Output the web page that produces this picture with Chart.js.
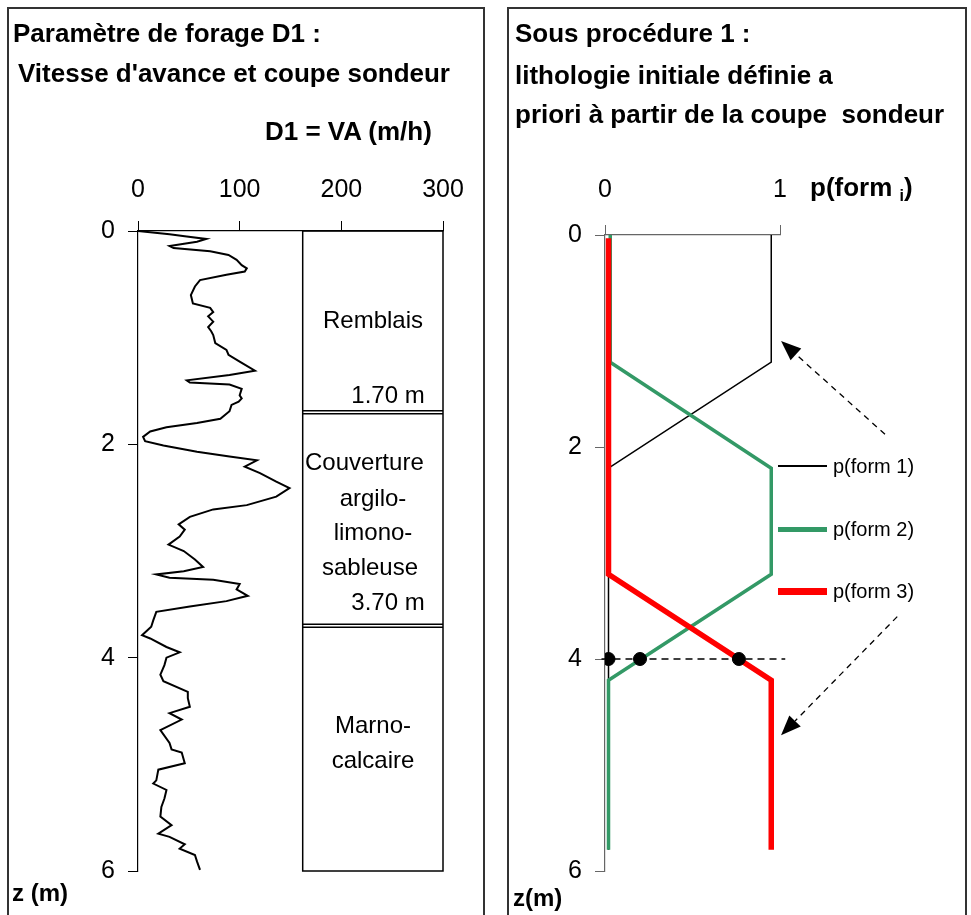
<!DOCTYPE html>
<html>
<head>
<meta charset="utf-8">
<script src="https://cdn.jsdelivr.net/npm/chart.js@4.4.1/dist/chart.umd.min.js"></script>
<style>
  body { margin: 0; background: #fff; width: 971px; height: 915px; overflow: hidden; position: relative;
         font-family: "Liberation Sans", Arial, sans-serif; color: #000; }
  .panel { position: absolute; top: 7px; height: 940px; border: 2px solid #333; box-sizing: border-box; }
  .t { position: absolute; white-space: pre; font-size: 26px; line-height: 26px; font-weight: bold; }
  .b { position: absolute; white-space: pre; font-size: 24px; line-height: 24px; text-align: center; }
  .lg { position: absolute; white-space: pre; font-size: 20px; line-height: 20px; }
  .sw { position: absolute; left: 778px; width: 49px; }
  canvas { position: absolute; top: 0; }
</style>
</head>
<body>
<div class="panel" style="left:7px;width:478px"></div>
<div class="panel" style="left:507px;width:460px"></div>

<canvas id="left" width="490" height="915" style="left:0"></canvas>
<canvas id="right" width="476" height="915" style="left:495px"></canvas>

<div class="t" style="left:13px;top:20px">Paramètre de forage D1 :</div>
<div class="t" style="left:18px;top:60px">Vitesse d'avance et coupe sondeur</div>
<div class="t" style="left:265px;top:118px">D1 = VA (m/h)</div>
<div class="t" style="left:12px;top:880px;font-size:24px">z (m)</div>

<div class="b" style="left:303px;width:140px;top:308px">Remblais</div>
<div class="b" style="left:318px;width:140px;top:383px">1.70 m</div>
<div class="b" style="left:305px;width:140px;top:450px;text-align:left">Couverture</div>
<div class="b" style="left:303px;width:140px;top:486px">argilo-</div>
<div class="b" style="left:303px;width:140px;top:520px">limono-</div>
<div class="b" style="left:300px;width:140px;top:555px">sableuse</div>
<div class="b" style="left:318px;width:140px;top:590px">3.70 m</div>
<div class="b" style="left:303px;width:140px;top:713px">Marno-</div>
<div class="b" style="left:303px;width:140px;top:748px">calcaire</div>

<div class="t" style="left:515px;top:20px">Sous procédure 1 :</div>
<div class="t" style="left:515px;top:62px">lithologie initiale définie a</div>
<div class="t" style="left:515px;top:101px">priori à partir de la coupe  sondeur</div>
<div class="t" style="left:810px;top:174px">p(form <span style="font-size:16px;position:relative;top:5px">i</span>)</div>
<div class="t" style="left:513px;top:885px;font-size:24px">z(m)</div>

<div class="sw" style="top:465px;height:2px;background:#000"></div>
<div class="sw" style="top:527px;height:5px;background:#339966"></div>
<div class="sw" style="top:588px;height:7px;background:#ff0000"></div>
<div class="lg" style="left:833px;top:456px">p(form 1)</div>
<div class="lg" style="left:833px;top:519px">p(form 2)</div>
<div class="lg" style="left:833px;top:581px">p(form 3)</div>

<script>
// Vitesse d'avance D1 (m/h) en fonction de la profondeur z (m)
var VA_DEPTH = [0, 0.03, 0.05, 0.075, 0.1, 0.14, 0.16, 0.19, 0.225, 0.27, 0.32, 0.35, 0.38, 0.41, 0.46, 0.52,
  0.6, 0.68, 0.72, 0.76, 0.8, 0.85, 0.9, 0.94, 0.975, 1.05, 1.115, 1.16, 1.225, 1.31, 1.35, 1.40, 1.42, 1.44,
  1.48, 1.54, 1.57, 1.6, 1.63, 1.69, 1.76, 1.8, 1.84, 1.88, 1.93, 1.97, 2.01, 2.07, 2.115, 2.15, 2.21, 2.27,
  2.35, 2.41, 2.49, 2.57, 2.61, 2.68, 2.75, 2.80, 2.865, 2.94, 3.0, 3.08, 3.15, 3.19, 3.22, 3.25, 3.27, 3.31,
  3.36, 3.42, 3.47, 3.52, 3.57, 3.65, 3.71, 3.79, 3.82, 3.90, 3.95, 4.0, 4.07, 4.16, 4.22, 4.32, 4.38, 4.46,
  4.52, 4.58, 4.68, 4.80, 4.86, 4.89, 4.99, 5.05, 5.15, 5.18, 5.24, 5.32, 5.40, 5.49, 5.57, 5.65, 5.68, 5.75,
  5.79, 5.85, 5.91, 5.99];
var VA_VALUE = [0, 31, 46, 67, 58, 31, 35, 71, 89, 97, 102, 107, 105, 87, 61, 56,
  52, 54, 71, 74, 69, 74, 69, 72, 74, 76, 87, 89, 100, 115, 90, 48, 51, 90,
  102, 100, 102, 99, 92, 90, 81, 58, 28, 12, 5, 7, 25, 58, 90, 117, 105, 120,
  136, 149, 136, 107, 74, 51, 40, 46, 41, 30, 45, 56, 64, 45, 18, 31, 74, 100,
  97, 108, 87, 51, 18, 15, 13, 4, 12, 28, 41, 28, 26, 22, 25, 49, 49, 51,
  31, 43, 22, 31, 33, 43, 46, 20, 18, 15, 28, 26, 23, 22, 33, 20, 31, 46,
  41, 56, 58, 61];

// coupe sondeur : colonne entre VA = 162 et 300, limites des couches (m)
var LITHO_X = [162, 300];
var LAYER_BOUNDS = [0, 1.70, 3.70, 6];

// probabilités des formations (sous procédure 1)
var P1_X = [0.95, 0.95, 0.02, 0.02];
var P1_Z = [0, 1.2, 2.2, 5.8];
var P2_X = [0.03, 0.03, 0.95, 0.95, 0.02, 0.02];
var P2_Z = [0, 1.2, 2.2, 3.2, 4.2, 5.8];
var P3_X = [0.02, 0.02, 0.95, 0.95];
var P3_Z = [0.03, 3.2, 4.2, 5.8];

// coupe à z = 4 m
var CUT_Z = 4;
var CUT_X = [-0.02, 1.03];
var DOTS_X = [0.02, 0.2, 0.765];

// flèches pointillées (départ -> pointe)
var ARROW_X0 = [1.6, 1.67];
var ARROW_Z0 = [1.88, 3.6];
var ARROW_X1 = [1.006, 1.006];
var ARROW_Z1 = [1.0, 4.72];

var FONT = "'Liberation Sans', Arial, sans-serif";

function pts(xs, zs) {
  return xs.map(function (x, i) { return { x: x, y: zs[i] }; });
}

function fixWidth(w) { return function (s) { s.width = w; }; }
function fixHeight(h) { return function (s) { s.height = h; }; }

var lithoBox = {
  id: "lithoBox",
  afterDatasetsDraw: function (chart) {
    var sx = chart.scales.x, sy = chart.scales.y, ctx = chart.ctx;
    var l = sx.getPixelForValue(LITHO_X[0]), r = sx.getPixelForValue(LITHO_X[1]);
    var t = sy.getPixelForValue(LAYER_BOUNDS[0]);
    var b = sy.getPixelForValue(LAYER_BOUNDS[LAYER_BOUNDS.length - 1]);
    ctx.save();
    ctx.strokeStyle = "#000";
    ctx.lineWidth = 1.5;
    ctx.strokeRect(l, t, r - l, b - t);
    for (var i = 1; i < LAYER_BOUNDS.length - 1; i++) {
      var py = sy.getPixelForValue(LAYER_BOUNDS[i]);
      ctx.beginPath();
      ctx.moveTo(l, py - 1.5); ctx.lineTo(r, py - 1.5);
      ctx.moveTo(l, py + 1.5); ctx.lineTo(r, py + 1.5);
      ctx.stroke();
    }
    ctx.restore();
  }
};

var arrows = {
  id: "arrows",
  afterDatasetsDraw: function (chart) {
    var sx = chart.scales.x, sy = chart.scales.y, ctx = chart.ctx;
    ctx.save();
    ctx.strokeStyle = "#000";
    ctx.fillStyle = "#000";
    ctx.lineWidth = 1.3;
    for (var i = 0; i < ARROW_X0.length; i++) {
      var x0 = sx.getPixelForValue(ARROW_X0[i]), y0 = sy.getPixelForValue(ARROW_Z0[i]);
      var x1 = sx.getPixelForValue(ARROW_X1[i]), y1 = sy.getPixelForValue(ARROW_Z1[i]);
      var a = Math.atan2(y1 - y0, x1 - x0);
      var hl = 20, hw = 8;
      var bx = x1 - hl * Math.cos(a), by = y1 - hl * Math.sin(a);
      ctx.setLineDash([6, 5]);
      ctx.beginPath(); ctx.moveTo(x0, y0); ctx.lineTo(bx, by); ctx.stroke();
      ctx.setLineDash([]);
      ctx.beginPath();
      ctx.moveTo(x1, y1);
      ctx.lineTo(bx + hw * Math.sin(a), by - hw * Math.cos(a));
      ctx.lineTo(bx - hw * Math.sin(a), by + hw * Math.cos(a));
      ctx.closePath();
      ctx.fill();
    }
    ctx.restore();
  }
};

function axes(opt) {
  return {
    x: {
      type: "linear", position: "top", min: 0, max: opt.xmax,
      ticks: { stepSize: opt.xstep, color: "#000", font: { family: FONT, size: 25 }, padding: opt.xpad },
      grid: { drawOnChartArea: false, drawTicks: true, tickLength: 10, color: opt.axis, lineWidth: 1 },
      border: { display: true, color: opt.axis, width: 1.2 },
      afterFit: fixHeight(opt.top)
    },
    y: {
      type: "linear", reverse: true, min: 0, max: 6,
      ticks: { stepSize: 2, color: "#000", font: { family: FONT, size: 25 }, padding: 13 },
      grid: { drawOnChartArea: false, drawTicks: true, tickLength: 10, color: opt.axis, lineWidth: 1 },
      border: { display: true, color: opt.axis, width: 1.2 },
      afterFit: fixWidth(opt.left)
    }
  };
}

new Chart(document.getElementById("left"), {
  type: "scatter",
  data: {
    datasets: [{
      data: pts(VA_VALUE, VA_DEPTH),
      showLine: true, borderColor: "#000", borderWidth: 2, pointRadius: 0, tension: 0
    }]
  },
  options: {
    responsive: false, animation: false, devicePixelRatio: 1,
    layout: { padding: { left: 0, right: 47, top: 0, bottom: 44 } },
    plugins: { legend: { display: false }, tooltip: { enabled: false } },
    scales: axes({ xmax: 300, xstep: 100, top: 231, left: 138, axis: "#000", xpad: 16 })
  },
  plugins: [lithoBox]
});

new Chart(document.getElementById("right"), {
  type: "scatter",
  data: {
    datasets: [
      { data: pts(P1_X, P1_Z), showLine: true, borderColor: "#000", borderWidth: 1.5, pointRadius: 0, order: 4 },
      { data: pts(P2_X, P2_Z), showLine: true, borderColor: "#339966", borderWidth: 3.5, pointRadius: 0, order: 3 },
      { data: pts(P3_X, P3_Z), showLine: true, borderColor: "#ff0000", borderWidth: 5.5, pointRadius: 0, order: 2 },
      { data: CUT_X.map(function (x) { return { x: x, y: CUT_Z }; }), showLine: true, borderColor: "#000",
        borderWidth: 1.3, borderDash: [7, 5], pointRadius: 0, clip: false, order: 1 },
      { data: DOTS_X.map(function (x) { return { x: x, y: CUT_Z }; }), showLine: false,
        pointRadius: 6.5, backgroundColor: "#000", borderColor: "#000", order: 0 }
    ]
  },
  options: {
    responsive: false, animation: false, devicePixelRatio: 1,
    layout: { padding: { left: 0, right: 191, top: 0, bottom: 44 } },
    plugins: { legend: { display: false }, tooltip: { enabled: false } },
    scales: axes({ xmax: 1, xstep: 1, top: 235, left: 110, axis: "#666", xpad: 20 })
  },
  plugins: [arrows]
});
</script>
</body>
</html>
